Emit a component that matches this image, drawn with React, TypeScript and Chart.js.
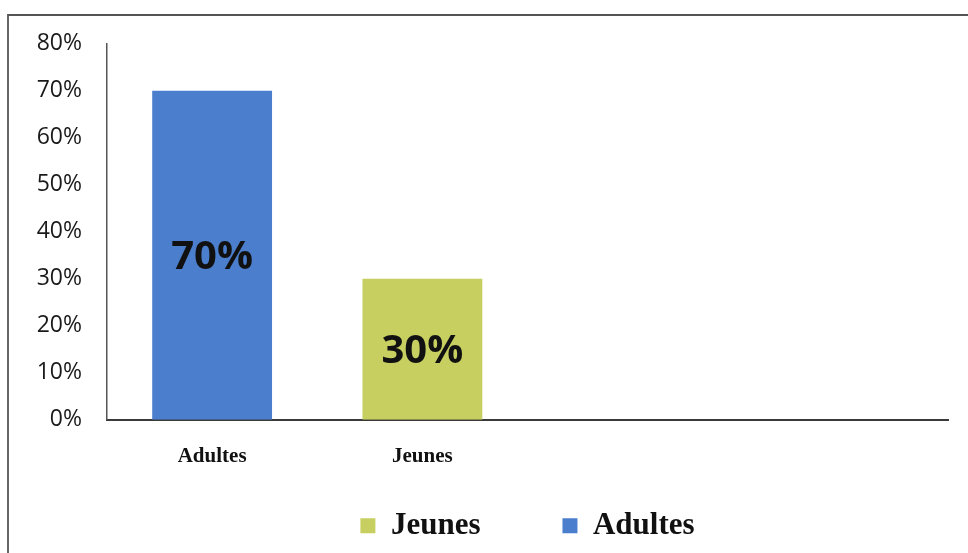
import React, { useEffect, useRef } from "react";
import { Chart, registerables } from "chart.js";

Chart.register(...registerables);

const categories = ["Adultes", "Jeunes", "", ""];
const jeunesValues = [null, 30, null, null];
const adultesValues = [70, null, null, null];
const yTicks = [0, 10, 20, 30, 40, 50, 60, 70, 80];

const JEUNES_COLOR = "#c6cf60";
const ADULTES_COLOR = "#4b7ecd";

const valueLabels = {
  id: "valueLabels",
  afterDatasetsDraw(chart: any) {
    const ctx = chart.ctx;
    ctx.save();
    ctx.font = "bold 40px 'Open Sans', sans-serif";
    ctx.fillStyle = "#111";
    ctx.textAlign = "center";
    ctx.textBaseline = "middle";
    chart.data.datasets.forEach((ds: any, di: number) => {
      const meta = chart.getDatasetMeta(di);
      meta.data.forEach((bar: any, i: number) => {
        const v = ds.data[i];
        if (v === null || v === undefined) return;
        const { x, y, base } = bar.getProps(["x", "y", "base"], true);
        ctx.fillText(v + "%", x, (y + base) / 2 + 2);
      });
    });
    ctx.restore();
  },
};

// Pull the legend up so that its wide item spacing does not push it off the page.
const legendPlacement = {
  id: "legendPlacement",
  afterLayout(chart: any) {
    const lg = chart.legend;
    if (!lg) return;
    const h = lg.height;
    lg.top = chart.chartArea.bottom + 8.5;
    lg.bottom = lg.top + h;
  },
};

export default function App() {
  const ref = useRef<HTMLCanvasElement | null>(null);
  useEffect(() => {
    if (!ref.current) return;
    const chart = new Chart(ref.current, {
      type: "bar",
      data: {
        labels: categories,
        datasets: [
          {
            label: "Jeunes",
            data: jeunesValues,
            backgroundColor: JEUNES_COLOR,
            borderWidth: 0,
          },
          {
            label: "Adultes",
            data: adultesValues,
            backgroundColor: ADULTES_COLOR,
            borderWidth: 0,
          },
        ],
      },
      options: {
        animation: false,
        responsive: false,
        maintainAspectRatio: false,
        layout: { padding: { top: 0, right: 12, bottom: 10, left: 0 } },
        datasets: {
          bar: { grouped: false, categoryPercentage: 1, barPercentage: 0.57 },
        },
        scales: {
          x: {
            offset: true,
            grid: { display: false, drawTicks: false },
            border: { display: true, color: "#3a3a3a", width: 2 },
            ticks: {
              padding: 24,
              color: "#111",
              font: { family: "'Liberation Serif', 'Times New Roman', serif", size: 21, weight: "bold" },
            },
          },
          y: {
            min: 0,
            max: 80,
            afterBuildTicks(scale: any) {
              scale.ticks = yTicks.map((v) => ({ value: v }));
            },
            grid: { display: false, drawTicks: false },
            border: { display: true, color: "#555", width: 1.5 },
            ticks: {
              padding: 25,
              color: "#1a1a1a",
              font: { family: "'Open Sans', sans-serif", size: 23 },
              callback: (v: any) => v + "%",
            },
            afterFit(scale: any) {
              scale.width = 97;
            },
          },
        },
        plugins: {
          tooltip: { enabled: false },
          legend: {
            position: "bottom",
            fullSize: false,
            labels: {
              boxWidth: 15,
              boxHeight: 15,
              padding: 82,
              color: "#111",
              font: { family: "'Liberation Serif', 'Times New Roman', serif", size: 31, weight: "bold" },
            },
          },
        },
      },
      plugins: [valueLabels, legendPlacement],
    } as any);
    return () => chart.destroy();
  }, []);

  return (
    <div style={{ position: "fixed", left: 0, top: 0, width: 968, height: 553, background: "#fff", overflow: "hidden" }}>
      <div
        style={{
          position: "absolute",
          left: 7,
          top: 14,
          width: 980,
          height: 560,
          borderLeft: "2px solid #666",
          borderTop: "2px solid #555",
          boxSizing: "border-box",
        }}
      />
      <canvas ref={ref} width={950} height={621} style={{ position: "absolute", left: 10, top: 5 }} />
    </div>
  );
}
